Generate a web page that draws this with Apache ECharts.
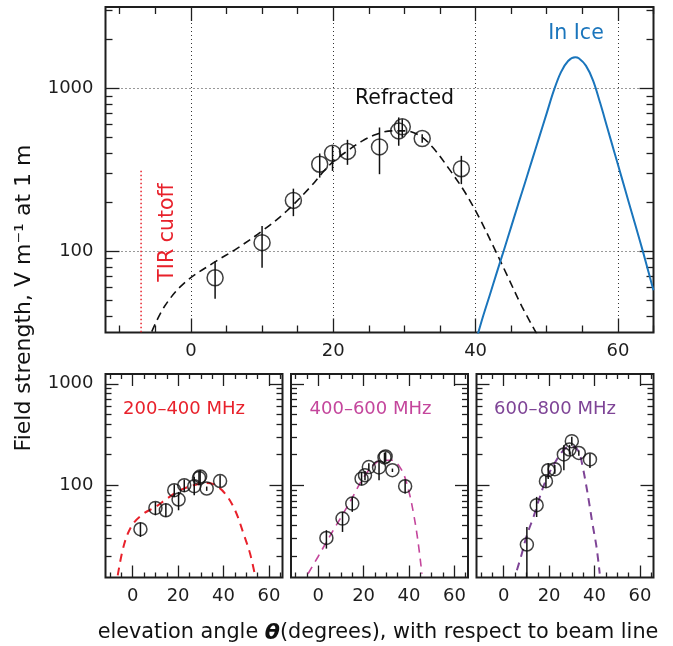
<!DOCTYPE html>
<html><head><meta charset="utf-8">
<script src="https://cdn.jsdelivr.net/npm/echarts@6/dist/echarts.min.js"></script>
<style>html,body{margin:0;padding:0;background:#fff}#c{width:673px;height:646px}</style>
</head><body><div id="c"></div>
<script>
// ---------- tick labels / tick positions ----------
const xLabelTicks = [0, 20, 40, 60];
const xMinorTicks = [-10, -5, 5, 10, 15, 25, 30, 35, 45, 50, 55, 65];
const yLabelTicks = [100, 1000];
const topMinorTicks = [40, 50, 60, 70, 80, 90, 200, 300, 400, 500, 600, 700, 800, 900, 2000, 3000];
const bottomMinorTicks = [20, 30, 40, 50, 60, 70, 80, 90, 200, 300, 400, 500, 600, 700, 800, 900];

// ---------- top panel data: [angle, field, errLow, errHigh] ----------
const refractedPoints = [
  [3.4, 68.6, 50.9, 86.7],
  [10.0, 112.7, 79.1, 142.6],
  [14.4, 205, 164, 242],
  [18.1, 342, 283, 398],
  [19.9, 400, 311, 444],
  [22.0, 410, 339, 483],
  [26.5, 437, 297, 575],
  [29.2, 548, 444, 663],
  [29.7, 581, 499, 647],
  [32.5, 492, 464, 523],
  [38.0, 321, 258, 385]
];
const refractedFit = [
  [-5.5, 32], [-3.7, 45.8], [-0.9, 63.9], [3.2, 84.9], [6.5, 104], [10.3, 136],
  [13.5, 177], [16.9, 251], [18.5, 304], [20.0, 355], [22.0, 413],
  [24.1, 476], [26.1, 523], [28.2, 548], [30.2, 548], [32.2, 511], [34.0, 433],
  [36.3, 319], [38.4, 234], [40.4, 164], [42.5, 107], [44.5, 70], [46.5, 45.8], [48.6, 31]
];
const inIceCurve = [
  [40.0, 27.6], [41, 39.1], [42, 53.8], [43, 74.3], [44, 102], [45, 141], [46, 195],
  [47, 268], [48, 370], [49, 511], [50, 705], [51, 972], [52, 1259], [53, 1472],
  [54.0, 1552], [54.5, 1530], [55.5, 1380], [56.5, 1120], [57.5, 815],
  [58.5, 575], [59.5, 405], [60.5, 286], [61.5, 201], [62.5, 142], [63.5, 100],
  [64.5, 69], [65.0, 57.5]
];
const tirCutoffLine = [[-7, 31.7], [-7, 318]];

// ---------- bottom panels ----------
const band1Points = [
  [3.4, 36.8, 30.9, 42.9],
  [10.0, 59.7, 50.6, 68.4],
  [14.6, 56.6, 48.6, 65.9],
  [18.3, 89.3, 76.7, 102],
  [20.2, 72.3, 56.6, 85.9],
  [22.7, 100, 85.9, 114],
  [27.1, 97.8, 79.6, 121],
  [29.2, 118, 100, 138],
  [29.7, 122, 104, 141],
  [32.6, 92.7, 88, 97],
  [38.5, 110, 96.3, 125.5]
];
const band1Fit = [
  [-6.6, 12.9], [-3.9, 25.6], [-0.3, 40.3], [4.8, 52.5], [10.0, 61], [15.1, 73.8],
  [20.9, 89.3], [26.8, 100], [31.9, 105], [35.6, 102.4], [40.7, 82.8], [45.1, 56.6],
  [48.8, 33.4], [51.7, 21.2], [53.9, 12.9]
];
const band2Points = [
  [3.6, 30.2, 23.7, 36],
  [10.7, 46.9, 34.6, 54.6],
  [15.0, 65.9, 54.6, 76.7],
  [19.1, 116, 100, 135],
  [20.6, 125.5, 112, 138],
  [22.3, 151, 138, 165],
  [26.8, 149.6, 112, 176.6],
  [29.2, 188, 165, 210],
  [29.7, 192, 170, 212],
  [32.7, 140.6, 135, 146],
  [38.3, 97.8, 82.8, 114]
];
const band2Fit = [
  [-4.5, 13.4], [-0.15, 19.6], [4.5, 29.8], [9.7, 46.9], [14.8, 73.8], [19.2, 112],
  [23.6, 151.6], [28.0, 176.6], [32.4, 176.6], [36.8, 140.6], [39.8, 89.3], [42.0, 52.6],
  [43.9, 28.6], [45.7, 13.4]
];
const band3Points = [
  [10.2, 26, 12.3, 38.8],
  [14.5, 63.5, 48.6, 76.7],
  [18.6, 109.5, 95, 125],
  [19.6, 140.6, 115, 165],
  [22.5, 143.8, 130, 158],
  [26.5, 201, 140.6, 248],
  [29.0, 225, 200, 250],
  [30.0, 272, 245, 300],
  [33.1, 208, 195, 220],
  [38.0, 179.5, 148, 205]
];
const band3Fit = [
  [5.8, 14.5], [8.0, 21.2], [10.2, 32.1], [13.1, 48.6], [15.2, 68.4], [17.7, 100],
  [20.3, 135.5], [23.2, 176.6], [26.1, 218], [29.0, 243], [31.6, 235], [33.4, 205],
  [34.8, 151.6], [36.2, 104], [37.7, 65.9], [39.1, 41.8], [40.9, 24.5], [42.3, 13.4]
];

// ---------- layout / style ----------
const FONT = '"DejaVu Sans", sans-serif';
const AX = '#1e1e1e';
const RED = '#e8212b', MAG = '#c4469c', PUR = '#7e4496', BLUE = '#1a75bc';

const grids = [
  {left: 105.5, top: 7, width: 548, height: 325.5},
  {left: 105.5, top: 374, width: 177, height: 203.5},
  {left: 291, top: 374, width: 177, height: 203.5},
  {left: 476.5, top: 374, width: 177, height: 203.5}
];
const xRanges = [[-12, 65], [-12, 66], [-12, 66], [-12, 66]];
const yRanges = [[31.623, 3162.3], [12.3, 1250], [12.3, 1250], [12.3, 1250]];

const xAxes = [], yAxes = [];
grids.forEach((g, i) => {
  const isTop = i === 0;
  const [xmin, xmax] = xRanges[i];
  const xMinorLen = isTop ? 7 : 5, xMajorLen = isTop ? 14 : 12;
  const yMinorLen = isTop ? 7 : 6, yMajorLen = isTop ? 14 : 13;
  const tickStyle = {color: AX, width: 1.3};
  const dotted = {show: true, lineStyle: {type: [1, 3], color: '#333', width: 1}};
  const noLine = {show: false, onZero: false};
  const xb = {type: 'value', gridIndex: i, min: xmin, max: xmax,
    axisLine: noLine, splitLine: {show: false}, axisLabel: {show: false}};
  xAxes.push(Object.assign({}, xb, {position: 'bottom',
    axisTick: {show: true, inside: true, length: xMinorLen, customValues: xMinorTicks, lineStyle: tickStyle},
    axisLabel: {show: true, customValues: xLabelTicks, margin: 10, color: AX, fontFamily: FONT, fontSize: 18}}));
  xAxes.push(Object.assign({}, xb, {position: 'bottom',
    axisTick: {show: true, inside: true, length: xMajorLen, customValues: xLabelTicks, lineStyle: tickStyle},
    splitLine: isTop ? dotted : {show: false}}));
  xAxes.push(Object.assign({}, xb, {position: 'top',
    axisTick: {show: true, inside: true, length: xMinorLen, customValues: xMinorTicks, lineStyle: tickStyle}}));
  xAxes.push(Object.assign({}, xb, {position: 'top',
    axisTick: {show: true, inside: true, length: xMajorLen, customValues: xLabelTicks, lineStyle: tickStyle}}));

  const [ymin, ymax] = yRanges[i];
  yAxes.push({type: 'log', gridIndex: i, min: ymin, max: ymax, show: false, axisLine: noLine});
  const lmin = Math.log10(ymin), lmax = Math.log10(ymax);
  const minorVals = (isTop ? topMinorTicks : bottomMinorTicks).map(Math.log10);
  const majorVals = yLabelTicks.map(Math.log10);
  const yb = {type: 'value', gridIndex: i, min: lmin, max: lmax,
    axisLine: noLine, splitLine: {show: false}, axisLabel: {show: false}};
  yAxes.push(Object.assign({}, yb, {position: 'left',
    axisTick: {show: true, inside: true, length: yMinorLen, customValues: minorVals, lineStyle: tickStyle},
    axisLabel: {show: i <= 1, customValues: majorVals, margin: 12, color: AX, fontFamily: FONT, fontSize: 18,
      formatter: v => String(Math.round(Math.pow(10, v)))}}));
  yAxes.push(Object.assign({}, yb, {position: 'left',
    axisTick: {show: true, inside: true, length: yMajorLen, customValues: majorVals, lineStyle: tickStyle},
    splitLine: isTop ? dotted : {show: false}}));
  yAxes.push(Object.assign({}, yb, {position: 'right',
    axisTick: {show: true, inside: true, length: yMinorLen, customValues: minorVals, lineStyle: tickStyle}}));
  yAxes.push(Object.assign({}, yb, {position: 'right',
    axisTick: {show: true, inside: true, length: yMajorLen, customValues: majorVals, lineStyle: tickStyle}}));
});

function fitLine(i, data, color, width, dash) {
  return {type: 'line', xAxisIndex: i * 4, yAxisIndex: i * 5, data: data, smooth: 0.35,
    symbol: 'none', silent: true, z: 2, lineStyle: {color: color, width: width, type: dash}};
}
function errBars(i, data) {
  return {type: 'custom', xAxisIndex: i * 4, yAxisIndex: i * 5, data: data, z: 3, silent: true,
    encode: {x: 0, y: 1},
    renderItem: (params, api) => {
      const p1 = api.coord([api.value(0), api.value(2)]);
      const p2 = api.coord([api.value(0), api.value(3)]);
      return {type: 'line', shape: {x1: p1[0], y1: p1[1], x2: p2[0], y2: p2[1]},
        style: {stroke: '#111', lineWidth: 1.5}};
    }};
}
function circles(i, data, size) {
  return {type: 'scatter', xAxisIndex: i * 4, yAxisIndex: i * 5, data: data.map(d => [d[0], d[1]]),
    symbol: 'circle', symbolSize: size, z: 4, silent: true,
    itemStyle: {color: 'rgba(0,0,0,0)', borderColor: '#111', borderWidth: 1.5}};
}

const series = [
  {type: 'line', xAxisIndex: 0, yAxisIndex: 0, data: tirCutoffLine, symbol: 'none', silent: true,
    lineStyle: {color: RED, width: 1.5, type: [1.5, 2.5]}},
  fitLine(0, refractedFit, '#111', 1.6, [8, 5]),
  fitLine(0, inIceCurve, BLUE, 2, 'solid'),
  errBars(0, refractedPoints),
  circles(0, refractedPoints, 16),
  fitLine(1, band1Fit, RED, 2, [8, 6]),
  errBars(1, band1Points),
  circles(1, band1Points, 13),
  fitLine(2, band2Fit, MAG, 1.6, [8, 6]),
  errBars(2, band2Points),
  circles(2, band2Points, 13),
  fitLine(3, band3Fit, PUR, 2, [8, 6]),
  errBars(3, band3Points),
  circles(3, band3Points, 13)
];

function txt(x, y, s, color, size, rot) {
  return {type: 'text', x: x, y: y, rotation: rot || 0, z: 10,
    style: {text: s, fill: color, font: size + 'px ' + FONT, align: 'center', verticalAlign: 'middle'}};
}

const option = {
  animation: false,
  backgroundColor: '#fff',
  grid: grids.map(g => Object.assign({show: true, borderColor: AX, borderWidth: 2,
    backgroundColor: 'transparent', containLabel: false, outerBoundsMode: 'none'}, g)),
  xAxis: xAxes,
  yAxis: yAxes,
  series: series,
  graphic: [
    txt(404.5, 99, 'Refracted', '#111', 20.5),
    txt(576, 34, 'In Ice', BLUE, 20.5),
    txt(168, 232.5, 'TIR cutoff', RED, 20.5, Math.PI / 2),
    txt(184, 409.5, '200\u2013400 MHz', RED, 18),
    txt(370.5, 409.5, '400\u2013600 MHz', MAG, 18),
    txt(555, 409.5, '600\u2013800 MHz', PUR, 18),
    txt(24, 298, 'Field strength, V m\u207B\u00B9 at 1 m', '#111', 22, Math.PI / 2),
    {type: 'text', x: 378, y: 633, z: 10,
      style: {text: '{a|elevation angle }{b|\u03B8}{a|(degrees), with respect to beam line}',
        align: 'center', verticalAlign: 'middle',
        rich: {a: {fill: '#111', fontSize: 20.8, fontFamily: FONT},
               b: {fill: '#111', fontSize: 22, fontFamily: FONT, fontWeight: 'bold', fontStyle: 'italic'}}}}
  ]
};

const chart = echarts.init(document.getElementById('c'), null, {renderer: 'canvas', width: 673, height: 646});
chart.setOption(option);
</script>
</body></html>
